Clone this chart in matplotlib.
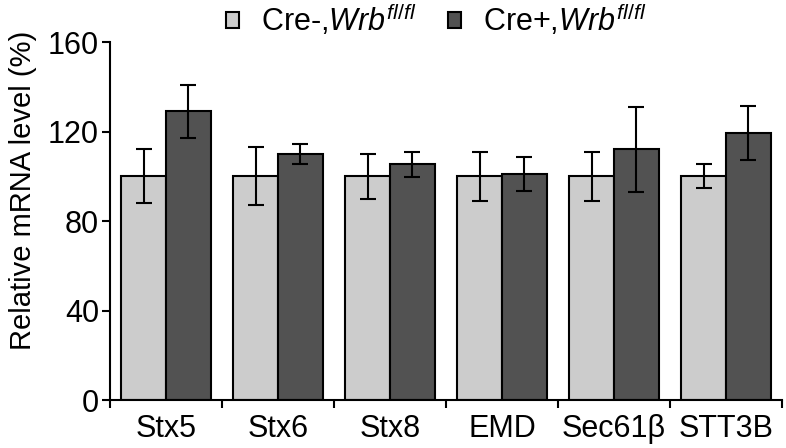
import numpy as np
import matplotlib.pyplot as plt
from matplotlib.patches import Patch

plt.rcParams['font.family'] = ['Liberation Sans', 'DejaVu Sans']
plt.rcParams['mathtext.fontset'] = 'custom'
plt.rcParams['mathtext.rm'] = 'Liberation Sans'
plt.rcParams['mathtext.it'] = 'Liberation Sans:italic'

genes = ['Stx5', 'Stx6', 'Stx8', 'EMD', 'Sec61β', 'STT3B']
ctrl_mean = [100, 100, 100, 100, 100, 100]
ctrl_err = [12, 13, 10, 11, 11, 5.3]
ko_mean = [129, 110, 105.5, 101, 112, 119.5]
ko_err = [11.7, 4.5, 5.6, 7.6, 19, 12]

light = '#cccccc'
dark = '#525252'

fig = plt.figure(figsize=(7.86, 4.48), dpi=100)
ax = fig.add_axes([0.14, 0.107, 0.855, 0.799])

x = np.arange(len(genes))
w = 0.4
err_kw = dict(elinewidth=1.5, capthick=1.5, ecolor='black')
ax.bar(x - w / 2, ctrl_mean, w, yerr=ctrl_err, color=light, edgecolor='black',
       linewidth=1.5, capsize=6, error_kw=err_kw)
ax.bar(x + w / 2, ko_mean, w, yerr=ko_err, color=dark, edgecolor='black',
       linewidth=1.5, capsize=6, error_kw=err_kw)

ax.set_xlim(-0.5, len(genes) - 0.5)
ax.set_ylim(0, 160)
ax.set_yticks([0, 40, 80, 120, 160])
ax.set_xticks(x)
ax.set_xticklabels(genes)
ax.set_xticks(np.arange(-0.5, len(genes), 1.0), minor=True)
ax.tick_params(axis='x', which='major', length=0, pad=10, labelsize=22)
ax.tick_params(axis='x', which='minor', length=6, width=1.5, direction='out')
ax.tick_params(axis='y', length=6, width=1.5, labelsize=22, pad=2)

for s in ['top', 'right']:
    ax.spines[s].set_visible(False)
for s in ['left', 'bottom']:
    ax.spines[s].set_linewidth(1.5)

ax.set_ylabel('Relative mRNA level (%)', fontsize=21)
# label sits a bit above the axes centre in the original
ax.yaxis.set_label_coords(-0.108, 0.585)

handles = [Patch(facecolor=light, edgecolor='black', linewidth=1.5),
           Patch(facecolor=dark, edgecolor='black', linewidth=1.5)]
labels = [r'Cre-,$\mathit{Wrb}^{\mathit{fl/fl}}$', r'Cre+,$\mathit{Wrb}^{\mathit{fl/fl}}$']
fig.legend(handles, labels, loc='center', bbox_to_anchor=(0.555, 0.955), ncol=2,
           frameon=False, fontsize=22, handlelength=0.42, handleheight=0.42,
           handletextpad=0.75, columnspacing=1.0)

fig.savefig('out.png', dpi=100)
